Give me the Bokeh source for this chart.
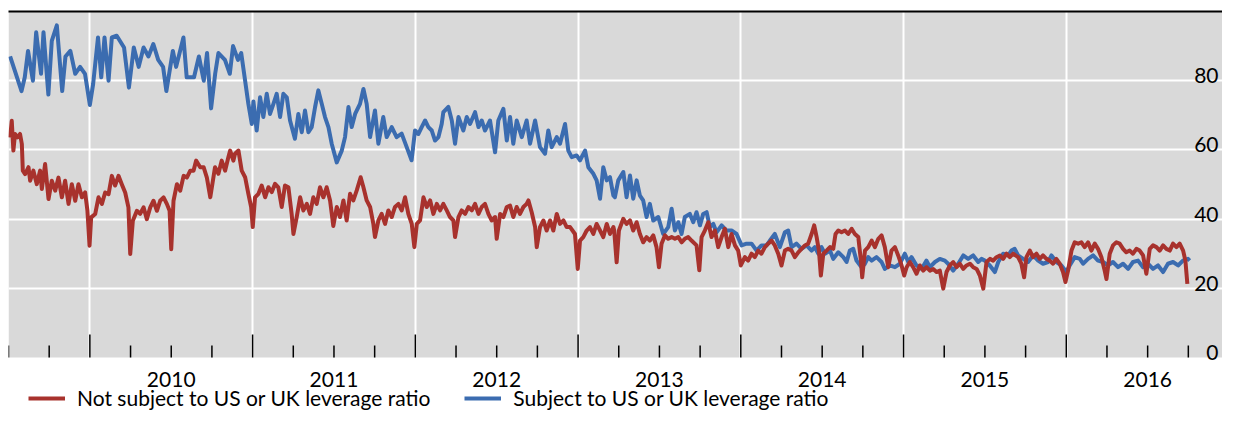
from bokeh.plotting import figure
from bokeh.models import Range1d, LinearAxis, FixedTicker, Grid, Legend, LegendItem, BoxAnnotation
from bokeh.core.properties import value
from bokeh.embed import file_html
from bokeh.resources import INLINE

FONT = "Lato"
FONT_SIZE = "21px"
RED = "#A8322D"
BLUE = "#3B6CB0"
PANEL = "#D9D9D9"

# ---- axis definitions (decimal years) ----
x_start, x_end = 2009.5, 2016.96
y_start, y_end = 0, 100
years = [2010, 2011, 2012, 2013, 2014, 2015, 2016]
year_labels = ["2010", "2011", "2012", "2013", "2014", "2015", "2016"]
quarter_ticks = [2009.5, 2009.75] + [y + q for y in years for q in (0.25, 0.5, 0.75)]
y_ticks = [0, 20, 40, 60, 80]
y_tick_labels = ["0", "20", "40", "60", "80"]

series_names = ["Not subject to US or UK leverage ratio", "Subject to US or UK leverage ratio"]

# ---- Subject to US or UK leverage ratio (blue) ----
blue_t = [2009.51, 2009.58, 2009.60, 2009.62, 2009.65, 2009.67, 2009.70, 2009.715, 2009.745, 2009.766,
          2009.797, 2009.83, 2009.85, 2009.88, 2009.91, 2009.94, 2009.97, 2010.00, 2010.02, 2010.05,
          2010.07, 2010.09, 2010.115, 2010.135, 2010.165, 2010.21, 2010.24, 2010.27, 2010.30, 2010.33,
          2010.36, 2010.39, 2010.42, 2010.45, 2010.47, 2010.51, 2010.53, 2010.575, 2010.595, 2010.64,
          2010.67, 2010.70, 2010.72, 2010.745,
          2010.77, 2010.79, 2010.83, 2010.86, 2010.88, 2010.91, 2010.93, 2010.954, 2010.974, 2010.995,
          2011.005, 2011.025, 2011.046, 2011.066, 2011.087, 2011.107, 2011.128, 2011.148, 2011.169, 2011.189,
          2011.21, 2011.23, 2011.26, 2011.281, 2011.302, 2011.322, 2011.343, 2011.363, 2011.384, 2011.404,
          2011.425, 2011.445, 2011.466, 2011.486, 2011.517, 2011.548, 2011.568, 2011.589, 2011.609, 2011.63,
          2011.66, 2011.681, 2011.701, 2011.722, 2011.752, 2011.773, 2011.803, 2011.824, 2011.855, 2011.885,
          2011.916, 2011.947, 2011.977, 2011.998,
          2012.019, 2012.039, 2012.06, 2012.08, 2012.101, 2012.121, 2012.142, 2012.162, 2012.172, 2012.203,
          2012.224, 2012.244, 2012.265, 2012.295, 2012.316, 2012.336, 2012.367, 2012.388, 2012.408, 2012.428,
          2012.459, 2012.49, 2012.51, 2012.541, 2012.562, 2012.582, 2012.602, 2012.623, 2012.654, 2012.684,
          2012.705, 2012.736, 2012.766, 2012.797, 2012.817, 2012.838, 2012.869, 2012.889, 2012.92, 2012.94,
          2012.961, 2012.991, 2013.012, 2013.043, 2013.063, 2013.094, 2013.114, 2013.135, 2013.155, 2013.176,
          2013.196, 2013.217,
          2013.226, 2013.247, 2013.278, 2013.298, 2013.319, 2013.339, 2013.36, 2013.38, 2013.4, 2013.421,
          2013.441, 2013.462, 2013.493, 2013.523, 2013.554, 2013.575, 2013.595, 2013.616, 2013.636, 2013.656,
          2013.687, 2013.708, 2013.728, 2013.749, 2013.769, 2013.79, 2013.81, 2013.831, 2013.851, 2013.882,
          2013.912, 2013.943, 2013.974, 2014.005, 2014.035, 2014.066, 2014.097, 2014.127, 2014.158, 2014.179,
          2014.209, 2014.24, 2014.271, 2014.291, 2014.312, 2014.342, 2014.373, 2014.404, 2014.435,
          2014.455, 2014.476, 2014.496, 2014.517, 2014.548, 2014.568, 2014.599, 2014.63, 2014.65, 2014.67,
          2014.691, 2014.711, 2014.742, 2014.763, 2014.783, 2014.804, 2014.834, 2014.865, 2014.885, 2014.916,
          2014.947, 2014.978, 2015.008, 2015.029, 2015.049, 2015.08, 2015.111, 2015.141, 2015.162, 2015.193,
          2015.223, 2015.254, 2015.274, 2015.305, 2015.336, 2015.367, 2015.397, 2015.428, 2015.459, 2015.479,
          2015.5, 2015.53, 2015.561, 2015.582, 2015.612, 2015.643, 2015.663,
          2015.683, 2015.704, 2015.735, 2015.765, 2015.796, 2015.827, 2015.857, 2015.888, 2015.909, 2015.939,
          2015.97, 2016.001, 2016.021, 2016.052, 2016.083, 2016.103, 2016.134, 2016.165, 2016.195, 2016.226,
          2016.257, 2016.287, 2016.318, 2016.349, 2016.38, 2016.41, 2016.441, 2016.472, 2016.502, 2016.533,
          2016.564, 2016.595, 2016.625, 2016.656, 2016.687, 2016.717, 2016.748, 2016.758]
blue_v = [87, 77, 81, 88.6, 80, 94, 82, 94, 76, 91.5,
          96, 77, 87, 88.6, 82, 84, 82, 73, 79, 92.5,
          81, 92.5, 80, 92.5, 93, 89.6, 78, 89.6, 84, 89.6,
          87, 90.6, 86, 84, 77, 88.6, 84, 92.5, 81, 81,
          87, 80, 88, 72,
          82, 88, 86, 82, 90, 86, 88, 80, 73.3, 67.5,
          74, 65.6, 75.2, 69.5, 76.2, 70.4, 73.3, 76.2, 69.5, 76.2,
          75.2, 68.5, 63.2, 70.4, 65.1, 71.4, 65.1, 66.6, 72.4, 77.2,
          73.3, 69.5, 66.6, 61.8, 56.4, 59.8, 63.7, 72.4, 66.6, 70.4,
          73.3, 77.6, 73.3, 63.7, 71.4, 61.8, 69.5, 63.7, 66.6, 63.7,
          64.7, 60.8, 57, 65.6,
          64.6, 66.6, 68.5, 66.6, 65.6, 62.7, 63.7, 67.5, 70.9, 72.4,
          68.5, 61.8, 69.5, 65.6, 69.5, 67.5, 70.9, 66.6, 68.5, 65.6,
          68.5, 59.3, 68.5, 71.9, 62.7, 69.5, 61.8, 68.5, 63.7, 68.5,
          61.8, 68.5, 60.8, 58.9, 65.6, 60.8, 63.7, 61.8, 67.5, 59.8,
          57.9, 58.4, 57, 59.8, 55, 53.1, 51.2, 45.9, 55, 51.2,
          52.1, 46.8,
          46.3, 51.2, 53.6, 46.3, 52.6, 45.9, 51.2, 46.8, 45.4, 40.6,
          44.4, 39.6, 40.6, 35.7, 37.7, 43, 36.7, 39.1, 35.7, 40.6,
          41.5, 39.1, 42, 38.2, 41.5, 42, 37.7, 38.6, 36.2, 38.2,
          36.7, 36.7, 35.7, 32.4, 32.9, 32.9, 30.9, 32.4, 32.4, 33.8,
          35.7, 31.9, 36.2, 36.7, 31.9, 32.9, 31.4, 32.4, 30.9,
          31.9, 30, 31.9, 30, 30.9, 28.5, 30.4, 29, 27.6, 30.9,
          31.4, 28, 26.1, 27.1, 29, 28, 29, 27.6, 25.6, 26.6,
          26.1, 27.1, 30, 27.6, 29, 26.6, 25.6, 28, 26.1, 27.6,
          28.5, 28, 27.1, 25.1, 27.1, 29.5, 28.5, 29.5, 27.6, 28.5,
          28, 26.6, 24.7, 27.6, 30, 29.5, 30.9,
          31.4, 29.5, 28.5, 27.6, 29.5, 28, 27.1, 27.6, 29.5, 27.6,
          26.6, 24.7, 26.6, 29, 28.5, 27.1, 28.5, 29.5, 28, 27.6,
          26.6, 27.6, 26.1, 27.1, 25.6, 27.6, 28, 26.1, 27.1, 25.6,
          26.6, 24.7, 27.1, 27.6, 26.6, 28, 28.5, 28]

# ---- Not subject to US or UK leverage ratio (red) ----
red_t = [2009.51, 2009.52, 2009.53, 2009.54, 2009.555, 2009.571, 2009.582, 2009.588, 2009.602, 2009.623,
         2009.633, 2009.653, 2009.674, 2009.694, 2009.705, 2009.725, 2009.746, 2009.766, 2009.787, 2009.807,
         2009.828, 2009.848, 2009.869, 2009.889, 2009.91, 2009.93, 2009.951, 2009.971, 2009.985, 2009.998,
         2010.008, 2010.033, 2010.053, 2010.074, 2010.094, 2010.115, 2010.135, 2010.155, 2010.176, 2010.196,
         2010.217, 2010.237, 2010.248, 2010.264, 2010.289, 2010.309, 2010.33, 2010.35, 2010.371, 2010.391,
         2010.412, 2010.432, 2010.453, 2010.473, 2010.49, 2010.5, 2010.514, 2010.535, 2010.555, 2010.576,
         2010.596, 2010.617, 2010.637, 2010.653, 2010.678, 2010.699, 2010.719, 2010.74,
         2010.769, 2010.79, 2010.81, 2010.831, 2010.851, 2010.862, 2010.882, 2010.892, 2010.913, 2010.933,
         2010.954, 2010.974, 2010.991, 2011.001, 2011.015, 2011.036, 2011.056, 2011.077, 2011.097, 2011.118,
         2011.138, 2011.158, 2011.179, 2011.199, 2011.22, 2011.24, 2011.251, 2011.271, 2011.292, 2011.312,
         2011.333, 2011.353, 2011.373, 2011.394, 2011.414, 2011.435, 2011.455, 2011.476, 2011.496, 2011.517,
         2011.537, 2011.558, 2011.578, 2011.599, 2011.619, 2011.64, 2011.664, 2011.681, 2011.701, 2011.722,
         2011.742, 2011.752, 2011.773, 2011.793, 2011.814, 2011.834, 2011.855, 2011.875, 2011.896, 2011.916,
         2011.937, 2011.957, 2011.978, 2011.994,
         2012.009, 2012.029, 2012.05, 2012.07, 2012.091, 2012.111, 2012.132, 2012.152, 2012.172, 2012.193,
         2012.213, 2012.234, 2012.244, 2012.265, 2012.285, 2012.306, 2012.326, 2012.347, 2012.367, 2012.388,
         2012.408, 2012.428, 2012.449, 2012.469, 2012.49, 2012.5, 2012.521, 2012.541, 2012.562, 2012.582,
         2012.602, 2012.623, 2012.643, 2012.664, 2012.684, 2012.695, 2012.715, 2012.736, 2012.746, 2012.766,
         2012.787, 2012.807, 2012.828, 2012.848, 2012.869, 2012.889, 2012.91, 2012.93, 2012.951, 2012.981,
         2012.998, 2013.012, 2013.032, 2013.053, 2013.073, 2013.094, 2013.114, 2013.135, 2013.155, 2013.176,
         2013.196, 2013.217,
         2013.222, 2013.237, 2013.251, 2013.278, 2013.298, 2013.319, 2013.339, 2013.36, 2013.38, 2013.4,
         2013.421, 2013.441, 2013.462, 2013.482, 2013.497, 2013.513, 2013.534, 2013.554, 2013.575, 2013.595,
         2013.616, 2013.636, 2013.656, 2013.677, 2013.697, 2013.728, 2013.745, 2013.759, 2013.779, 2013.8,
         2013.82, 2013.841, 2013.861, 2013.882, 2013.902, 2013.923, 2013.943, 2013.964, 2013.984, 2014.0,
         2014.025, 2014.045, 2014.066, 2014.086, 2014.107, 2014.127, 2014.148, 2014.168, 2014.189, 2014.209,
         2014.23, 2014.25, 2014.271, 2014.291, 2014.312, 2014.332, 2014.353, 2014.373, 2014.394, 2014.414,
         2014.435,
         2014.451, 2014.466, 2014.48, 2014.492, 2014.507, 2014.527, 2014.548, 2014.568, 2014.582, 2014.599,
         2014.619, 2014.64, 2014.66, 2014.681, 2014.701, 2014.722, 2014.738, 2014.746, 2014.763, 2014.783,
         2014.804, 2014.824, 2014.845, 2014.865, 2014.885, 2014.906, 2014.926, 2014.947, 2014.967, 2014.988,
         2015.004, 2015.019, 2015.039, 2015.059, 2015.08, 2015.1, 2015.121, 2015.141, 2015.162, 2015.182,
         2015.203, 2015.223, 2015.244, 2015.264, 2015.285, 2015.305, 2015.326, 2015.346, 2015.367, 2015.387,
         2015.408, 2015.428, 2015.449, 2015.469, 2015.49, 2015.51, 2015.531, 2015.551, 2015.571, 2015.592,
         2015.612, 2015.633, 2015.653, 2015.674, 2015.688,
         2015.704, 2015.724, 2015.741, 2015.755, 2015.776, 2015.796, 2015.817, 2015.837, 2015.857, 2015.878,
         2015.898, 2015.919, 2015.939, 2015.96, 2015.98, 2015.995, 2016.011, 2016.032, 2016.052, 2016.073,
         2016.093, 2016.113, 2016.134, 2016.154, 2016.175, 2016.195, 2016.216, 2016.236, 2016.247, 2016.267,
         2016.287, 2016.308, 2016.328, 2016.349, 2016.369, 2016.39, 2016.41, 2016.431, 2016.451, 2016.472,
         2016.492, 2016.513, 2016.533, 2016.554, 2016.574, 2016.595, 2016.615, 2016.636, 2016.656, 2016.677,
         2016.697, 2016.718, 2016.732, 2016.744]
red_v = [63.6, 68.4, 59.8, 64.6, 63.6, 64.6, 61.7, 54, 53, 55,
         51.1, 54, 50.1, 54, 48.7, 55.9, 45.8, 51.1, 48.2, 52,
         46.3, 51.1, 44.4, 50.1, 45.3, 50.1, 46.3, 47.7, 42.4, 32.3,
         40.5, 41.5, 46.3, 44.4, 47.7, 47.2, 52.5, 49.7, 52.5, 50.1,
         47.7, 43.4, 29.9, 39.5, 42.4, 41.5, 43.4, 40, 43.4, 45.3,
         42.4, 45.3, 46.3, 44.4, 42.4, 31.3, 45.3, 50.1, 48.2, 52.5,
         52, 54, 54, 56.9, 55, 55, 52, 46.3,
         55, 53.1, 56.9, 54, 57.9, 59.8, 56.9, 58.9, 59.8, 54,
         52.1, 47.3, 43.5, 37.7, 46.3, 47.3, 49.7, 46.3, 49.2, 47.8,
         50.2, 49.2, 43.5, 49.7, 49.2, 41.5, 35.7, 40.6, 46.3, 42.5,
         44.4, 41.5, 46.3, 44.4, 49.2, 46.3, 49.2, 45.4, 38, 43.5,
         40.6, 45.4, 39.6, 47.3, 45.4, 48.3, 52.1, 49.2, 45.4, 43.5,
         38.6, 34.8, 39.6, 41.5, 38.6, 42.5, 40.6, 43.5, 44.4, 42.5,
         46.3, 41.5, 38.6, 31.9,
         38.6, 39.6, 46.3, 43.5, 45.4, 41.5, 44.4, 42.5, 44.4, 42.5,
         40.6, 39.6, 34.8, 40.6, 42.5, 41.5, 43.5, 42.5, 44.4, 41.5,
         43.5, 44.4, 41.5, 39.6, 40.6, 34.3, 41.5, 40.6, 43.5, 43.9,
         40.6, 43.5, 41.5, 43.5, 44.4, 45.4, 42, 37.7, 31.9, 37.7,
         39.6, 36.7, 39.6, 36.7, 41.5, 38.6, 39.6, 37.7, 37.7, 35.7,
         25.6, 33.8, 34.8, 36.7, 37.7, 35.7, 38.6, 36.7, 34.8, 38.6,
         35.7, 37.7,
         36.7, 27.5, 36.7, 40.1, 38.6, 39.6, 36.7, 39.1, 35.7, 33.3,
         34.8, 33.8, 35.3, 31.9, 26.1, 32.9, 35.3, 34.3, 34.8, 34.3,
         34.8, 33.3, 34.3, 34.8, 33.8, 32.4, 25.2, 34.8, 36.7, 39.1,
         34.8, 36.7, 31.9, 34.8, 37.2, 31.9, 35.7, 32.4, 30.9, 26.6,
         29, 28, 30, 29, 30.9, 30, 31.9, 32.9, 33.8, 32.4,
         30, 26.6, 30.9, 31.4, 30.9, 29, 30.4, 31.4, 32.4, 32.9,
         35.7,
         38.2, 34.8, 30.9, 23.7, 30, 30.9, 31.9, 31.4, 35.7, 36.7,
         36.2, 36.7, 35.7, 37.2, 35.7, 34.8, 28, 23.2, 30.9, 31.9,
         33.8, 31.9, 34.3, 35.3, 31.9, 26.1, 30.9, 31.9, 29.5, 26.6,
         23.7, 26.1, 27.6, 26.1, 24.2, 26.6, 25.1, 26.1, 25.1, 25.6,
         24.7, 25.1, 19.9, 24.7, 26.6, 27.6, 26.1, 27.1, 25.6, 26.6,
         27.1, 26.1, 25.6, 23.7, 19.9, 27.6, 28.5, 28, 29, 29.5,
         28.5, 30, 29, 30, 29.5,
         29, 27.1, 23.2, 29, 30.9, 29, 30, 28.5, 29.5, 28.5,
         28, 27.1, 28.5, 27.1, 24.7, 21.8, 25.1, 30.9, 33.3, 32.9,
         33.3, 31.9, 33.3, 30.9, 32.9, 31.4, 29, 25.1, 22.7, 30,
         32.4, 33.3, 32.9, 31.4, 30.4, 30.9, 30, 31.4, 30.9, 29.5,
         24.2, 31.4, 32.4, 31.9, 30.9, 32.4, 31.4, 30.9, 32.9, 31.9,
         32.9, 30.9, 28, 21.3]

# Layout: the grey panel (0..100) is 346 px tall; the frame continues below it
# (white) to hold the year labels and the legend.
FIG_W, FIG_H = 1222, 410
TOP_BORDER = 11
PANEL_PX = 346
units_per_px = (y_end - y_start) / PANEL_PX
frame_px = FIG_H - TOP_BORDER
frame_bottom = y_end - frame_px * units_per_px
major_tick_len = 23 * units_per_px
minor_tick_len = 12 * units_per_px

p = figure(width=FIG_W, height=FIG_H,
           x_range=Range1d(x_start, x_end), y_range=Range1d(frame_bottom, y_end),
           x_axis_location=None, y_axis_location=None,
           output_backend="svg", toolbar_location=None,
           min_border_left=8, min_border_right=0, min_border_top=TOP_BORDER, min_border_bottom=0,
           background_fill_color="white", border_fill_color="white",
           outline_line_color=None)

p.center = [r for r in p.center if not isinstance(r, Grid)]

# grey plotting panel
p.add_layout(BoxAnnotation(bottom=y_start, top=y_end, fill_color=PANEL, fill_alpha=1,
                           line_color=None, level="underlay"))

# white grid lines
p.add_layout(Grid(dimension=0, ticker=FixedTicker(ticks=years),
                  grid_line_color="white", grid_line_width=2))
p.add_layout(Grid(dimension=1, ticker=FixedTicker(ticks=[t for t in y_ticks if t > 0]),
                  grid_line_color="white", grid_line_width=2))

# top rule
top_axis = LinearAxis(ticker=FixedTicker(ticks=[]), axis_line_color="black", axis_line_width=2,
                      major_tick_in=0, major_tick_out=0, minor_tick_in=0, minor_tick_out=0,
                      major_label_standoff=0)
p.add_layout(top_axis, "above")

# inward tick marks along the bottom edge: long at year starts, short at quarters
p.segment(x0=quarter_ticks, y0=[y_start] * len(quarter_ticks),
          x1=quarter_ticks, y1=[y_start + minor_tick_len] * len(quarter_ticks),
          line_color="black", line_width=1.5)
p.segment(x0=years, y0=[y_start] * len(years),
          x1=years, y1=[y_start + major_tick_len] * len(years),
          line_color="black", line_width=1.5)

# series
r_blue = p.line(blue_t, blue_v, line_color=BLUE, line_width=4, line_join="round")
r_red = p.line(red_t, red_v, line_color=RED, line_width=4, line_join="round")

# year labels centred in each year, below the panel
mids = [y + 0.5 for y in years]
p.text(x=mids, y=[y_start] * len(mids), text=year_labels,
       text_align="center", text_baseline="middle", y_offset=22,
       text_font=value(FONT), text_font_size=FONT_SIZE, text_color="black")

# y tick labels inside the panel, on the right, above gridlines
p.text(x=[x_end] * len(y_ticks), y=y_ticks, text=y_tick_labels,
       text_align="right", text_baseline="alphabetic", x_offset=-4, y_offset=-5,
       text_font=value(FONT), text_font_size=FONT_SIZE, text_color="black")

legend = Legend(items=[LegendItem(label=series_names[0], renderers=[r_red]),
                       LegendItem(label=series_names[1], renderers=[r_blue])],
                location=(20, 0), orientation="horizontal",
                glyph_width=37, glyph_height=16, label_height=16, label_standoff=12, spacing=34,
                padding=0, margin=0, border_line_color=None, background_fill_alpha=0,
                label_text_font=FONT, label_text_font_size=FONT_SIZE, label_text_color="black")
p.add_layout(legend)

open("out.html", "w").write(file_html(p, INLINE))
